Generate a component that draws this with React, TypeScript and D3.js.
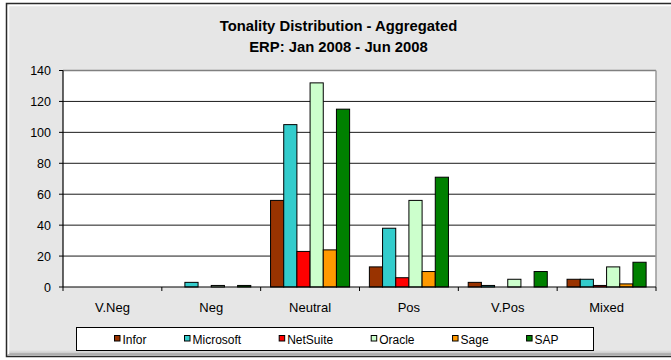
import React, { useMemo } from "react";
import * as d3 from "d3";

// Tonality categories along the x axis
const categories = ["V.Neg", "Neg", "Neutral", "Pos", "V.Pos", "Mixed"];

// Vendors (one bar per vendor in each category)
const vendors = ["Infor", "Microsoft", "NetSuite", "Oracle", "Sage", "SAP"];
const vendorColors = ["#993300", "#33CCCC", "#FF0000", "#CCFFCC", "#FF9900", "#008000"];

// Article counts per vendor, in category order
const infor = [0, 0, 56, 13, 3, 5];
const microsoft = [0, 3, 105, 38, 1, 5];
const netsuite = [0, 0, 23, 6, 0, 1];
const oracle = [0, 1, 132, 56, 5, 13];
const sage = [0, 0, 24, 10, 0, 2];
const sap = [0, 1, 115, 71, 10, 16];
const seriesValues = [infor, microsoft, netsuite, oracle, sage, sap];

const yTicks = [0, 20, 40, 60, 80, 100, 120, 140];

const titleLines = ["Tonality Distribution - Aggregated", "ERP: Jan 2008 - Jun 2008"];

const W = 671;
const H = 360;
const FONT = "'Liberation Sans', Arial, sans-serif";

function measure(text: string, font: string): number {
  if (typeof document !== "undefined") {
    const c = document.createElement("canvas").getContext("2d");
    if (c) {
      c.font = font;
      return c.measureText(text).width;
    }
  }
  return text.length * 6.5;
}

export default function App() {
  const plot = { left: 63, right: 656, top: 70.5, bottom: 287 };

  const x = d3.scaleBand<string>().domain(categories).range([plot.left, plot.right]).padding(0);
  const xInner = d3
    .scaleBand<string>()
    .domain(vendors)
    .range([0, x.bandwidth()])
    .paddingInner(0)
    .paddingOuter(0.75);
  const y = d3.scaleLinear().domain([0, 140]).range([plot.bottom, plot.top]);

  // Legend entries laid out left to right from their text widths
  const legendItems = useMemo(() => {
    const font = `12px 'Liberation Sans', Arial, sans-serif`;
    let cx = 114;
    return vendors.map((v, i) => {
      const item = { name: v, color: vendorColors[i], x: cx };
      cx += 8.5 + measure(v, font) + 37.5;
      return item;
    });
  }, []);

  return (
    <svg
      width={W}
      height={H}
      style={{ position: "absolute", left: 0, top: 0, display: "block" }}
      fontFamily={FONT}
    >
      <defs>
        <linearGradient id="bottomShade" x1="0" y1="0" x2="0" y2="1">
          <stop offset="0" stopColor="#e6e6e6" />
          <stop offset="1" stopColor="#b8b8b8" />
        </linearGradient>
      </defs>
      <rect x={0} y={0} width={W} height={H} fill="#ffffff" />
      {/* chart frame with bevel */}
      <rect x={6.5} y={3.5} width={W + 10} height={353} fill="#E6E6E6" stroke="#2a2a2a" strokeWidth={1.5} />
      <rect x={8} y={350} width={W} height={5.5} fill="url(#bottomShade)" />
      <line x1={8.5} y1={5.5} x2={W} y2={5.5} stroke="#ffffff" strokeWidth={1.5} />
      <line x1={8.5} y1={5.5} x2={8.5} y2={354} stroke="#ffffff" strokeWidth={1.5} />
      <line x1={9.5} y1={354} x2={W} y2={354} stroke="#9a9a9a" strokeWidth={1} />

      {/* title */}
      <g fontWeight="bold" fontSize={14.8} textAnchor="middle" fill="#000">
        <text x={338.5} y={30.5}>{titleLines[0]}</text>
        <text x={338.5} y={51.5}>{titleLines[1]}</text>
      </g>

      {/* plot area */}
      <rect
        x={plot.left}
        y={plot.top}
        width={plot.right - plot.left}
        height={plot.bottom - plot.top}
        fill="#ffffff"
      />

      {/* gridlines */}
      {yTicks.slice(1, -1).map((t) => (
        <line key={t} x1={plot.left} x2={plot.right} y1={y(t)} y2={y(t)} stroke="#1a1a1a" strokeWidth={1} />
      ))}
      <line x1={plot.left} x2={plot.right} y1={plot.top} y2={plot.top} stroke="#808080" strokeWidth={1.5} />
      <line x1={plot.right} x2={plot.right} y1={plot.top} y2={plot.bottom} stroke="#9a9a9a" strokeWidth={1.5} />

      {/* bars */}
      {categories.map((c, ci) => (
        <g key={c} transform={`translate(${x(c)},0)`}>
          {vendors.map((v, vi) => {
            const val = seriesValues[vi][ci];
            if (!val) return null;
            return (
              <rect
                key={v}
                x={xInner(v)}
                y={y(val)}
                width={xInner.bandwidth()}
                height={y(0) - y(val)}
                fill={vendorColors[vi]}
                stroke="#000"
                strokeWidth={1}
              />
            );
          })}
        </g>
      ))}

      {/* axes */}
      <line x1={plot.left} x2={plot.left} y1={plot.top} y2={plot.bottom} stroke="#000" strokeWidth={1.2} />
      <line x1={plot.left} x2={plot.right} y1={plot.bottom} y2={plot.bottom} stroke="#000" strokeWidth={1.2} />
      {yTicks.map((t) => (
        <g key={t}>
          <line x1={plot.left - 4} x2={plot.left} y1={y(t)} y2={y(t)} stroke="#000" />
          <text x={51} y={y(t)} dy="0.36em" textAnchor="end" fontSize={12.5} fill="#000">
            {t}
          </text>
        </g>
      ))}
      {categories.map((c) => (
        <line
          key={"t" + c}
          x1={x(c) as number}
          x2={x(c) as number}
          y1={plot.bottom}
          y2={plot.bottom + 4}
          stroke="#000"
        />
      ))}
      <line x1={plot.right} x2={plot.right} y1={plot.bottom} y2={plot.bottom + 4} stroke="#000" />
      {categories.map((c) => (
        <text
          key={"l" + c}
          x={(x(c) as number) + x.bandwidth() / 2}
          y={312}
          textAnchor="middle"
          fontSize={13}
          fill="#000"
        >
          {c}
        </text>
      ))}

      {/* legend */}
      <rect x={76.5} y={327.5} width={517} height={23} fill="#ffffff" stroke="#000" strokeWidth={1} />
      {legendItems.map((it) => (
        <g key={it.name}>
          <rect x={it.x + 0.5} y={335.5} width={5.5} height={5.5} fill={it.color} stroke="#000" strokeWidth={1} />
          <text x={it.x + 8.5} y={343.5} fontSize={12} fill="#000">
            {it.name}
          </text>
        </g>
      ))}
    </svg>
  );
}
